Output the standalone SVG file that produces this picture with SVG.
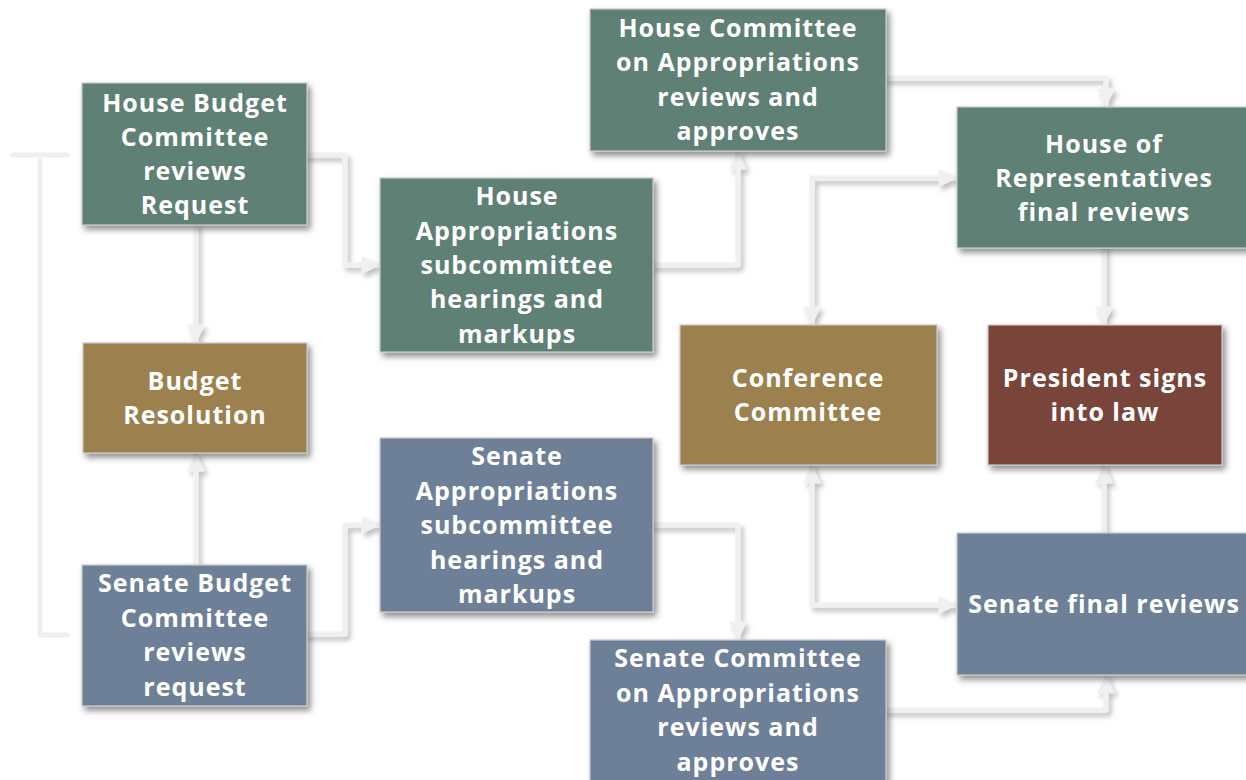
<svg xmlns="http://www.w3.org/2000/svg" width="1246" height="780" viewBox="0 0 1246 780">
<defs>
<filter id="sh" x="-10%" y="-10%" width="130%" height="130%">
<feDropShadow dx="3" dy="4" stdDeviation="3" flood-color="#000" flood-opacity="0.45"/>
</filter>
<filter id="lsh" x="-20%" y="-20%" width="140%" height="140%">
<feDropShadow dx="3" dy="4" stdDeviation="2.5" flood-color="#000" flood-opacity="0.25"/>
</filter>
<marker id="ah" viewBox="0 0 10 10" refX="9" refY="5" markerWidth="20" markerHeight="18" markerUnits="userSpaceOnUse" orient="auto">
<path d="M0,0 L10,5 L0,10 Z" fill="#f0f0f0"/>
</marker>
<marker id="as" viewBox="0 0 10 10" refX="1" refY="5" markerWidth="20" markerHeight="18" markerUnits="userSpaceOnUse" orient="auto">
<path d="M10,0 L0,5 L10,10 Z" fill="#f0f0f0"/>
</marker>
</defs>
<style>
.box{stroke:#c9c9c9;stroke-width:1.2;filter:url(#sh)}
.g{fill:#5e8075}
.t{fill:#9c8150}
.b{fill:#6e8098}
.r{fill:#79443b}
text{font-family:"Open Sans","DejaVu Sans",sans-serif;font-weight:700;font-size:25px;fill:#fff;text-anchor:middle;letter-spacing:1px}
.c{fill:none;stroke:#f0f0f0;stroke-width:5;stroke-linejoin:round;stroke-linecap:round}
.br{fill:none;stroke:#efefef;stroke-width:5;stroke-linecap:round}
</style>
<rect width="1246" height="780" fill="#fff"/>
<g id="connectors">
<g id="bracket">
<path class="br" d="M13,155 H67 M40,155 V635 M40,635 H67"/>
</g>
<g filter="url(#lsh)">
<path class="c" d="M307,155 H345 V265 H378" marker-end="url(#ah)"/>
<path class="c" d="M196,225 V341" marker-end="url(#ah)"/>
<path class="c" d="M196,565 V455" marker-end="url(#ah)"/>
<path class="c" d="M307,634 H345 V525 H378" marker-end="url(#ah)"/>
<path class="c" d="M653,265 H738 V153" marker-end="url(#ah)"/>
<path class="c" d="M886,78 H1106 V105" marker-end="url(#ah)"/>
<path class="c" d="M812,323 V178 H955" marker-start="url(#as)" marker-end="url(#ah)"/>
<path class="c" d="M812,467 V605 H955" marker-start="url(#as)" marker-end="url(#ah)"/>
<path class="c" d="M653,525 H738 V638" marker-end="url(#ah)"/>
<path class="c" d="M886,710 H1106 V677" marker-end="url(#ah)"/>
<path class="c" d="M1104,248 V323" marker-end="url(#ah)"/>
<path class="c" d="M1104,533 V467" marker-end="url(#ah)"/>
</g>
</g>
<g id="house-budget">
<rect class="box g" x="82" y="83" width="225" height="142"/>
<text x="195"><tspan x="195" y="112">House Budget</tspan><tspan x="195" y="146">Committee</tspan><tspan x="195" y="180">reviews</tspan><tspan x="195" y="214">Request</tspan></text>
</g>
<g id="budget-resolution">
<rect class="box t" x="83" y="343" width="224" height="110"/>
<text x="195"><tspan x="195" y="390">Budget</tspan><tspan x="195" y="424">Resolution</tspan></text>
</g>
<g id="senate-budget">
<rect class="box b" x="82" y="565" width="225" height="141"/>
<text x="195"><tspan x="195" y="592">Senate Budget</tspan><tspan x="195" y="627">Committee</tspan><tspan x="195" y="661">reviews</tspan><tspan x="195" y="696">request</tspan></text>
</g>
<g id="house-approps-sub">
<rect class="box g" x="380" y="178" width="273" height="174"/>
<text x="517"><tspan x="517" y="205">House</tspan><tspan x="517" y="240">Appropriations</tspan><tspan x="517" y="274">subcommittee</tspan><tspan x="517" y="308">hearings and</tspan><tspan x="517" y="343">markups</tspan></text>
</g>
<g id="senate-approps-sub">
<rect class="box b" x="380" y="438" width="273" height="174"/>
<text x="517"><tspan x="517" y="465">Senate</tspan><tspan x="517" y="500">Appropriations</tspan><tspan x="517" y="534">subcommittee</tspan><tspan x="517" y="569">hearings and</tspan><tspan x="517" y="603">markups</tspan></text>
</g>
<g id="house-committee-approps">
<rect class="box g" x="590" y="9" width="296" height="142"/>
<text x="738"><tspan x="738" y="37">House Committee</tspan><tspan x="738" y="71">on Appropriations</tspan><tspan x="738" y="106">reviews and</tspan><tspan x="738" y="140">approves</tspan></text>
</g>
<g id="senate-committee-approps">
<rect class="box b" x="590" y="640" width="296" height="145"/>
<text x="738"><tspan x="738" y="667">Senate Committee</tspan><tspan x="738" y="702">on Appropriations</tspan><tspan x="738" y="736">reviews and</tspan><tspan x="738" y="771">approves</tspan></text>
</g>
<g id="house-final">
<rect class="box g" x="957" y="107" width="292" height="141"/>
<text x="1104"><tspan x="1104" y="153">House of</tspan><tspan x="1104" y="187">Representatives</tspan><tspan x="1104" y="221">final reviews</tspan></text>
</g>
<g id="conference">
<rect class="box t" x="680" y="325" width="257" height="140"/>
<text x="808"><tspan x="808" y="387">Conference</tspan><tspan x="808" y="421">Committee</tspan></text>
</g>
<g id="president">
<rect class="box r" x="988" y="325" width="234" height="140"/>
<text x="1105"><tspan x="1105" y="387">President signs</tspan><tspan x="1105" y="421">into law</tspan></text>
</g>
<g id="senate-final">
<rect class="box b" x="957" y="533" width="292" height="142"/>
<text x="1104"><tspan x="1104" y="613">Senate final reviews</tspan></text>
</g>
</svg>
